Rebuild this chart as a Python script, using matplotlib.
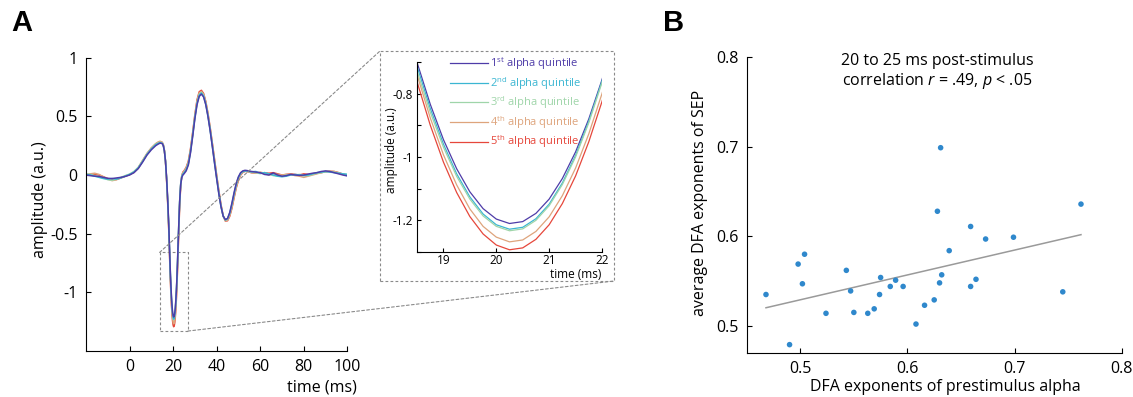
import numpy as np
import matplotlib
matplotlib.use("Agg")
import matplotlib.pyplot as plt
from matplotlib.patches import Rectangle, ConnectionPatch

FONT = "Open Sans"
plt.rcParams["font.family"] = [FONT, "DejaVu Sans"]
plt.rcParams["mathtext.fontset"] = "custom"
plt.rcParams["mathtext.rm"] = FONT
plt.rcParams["mathtext.it"] = FONT + ":italic"

# ---------------- data: panel A (SEP waveforms per alpha quintile) ----------------
time_ms = ([-20, -18, -16, -14, -12, -10, -8, -6, -4, -2, 0, 2, 4, 6, 8, 10, 12,
            13, 14, 15,
            15.5, 16, 16.5, 17, 17.5, 18,
            18.5, 18.75, 19, 19.25, 19.5, 19.75, 20, 20.25, 20.5, 20.75, 21, 21.25, 21.5, 21.75, 22,
            22.5, 23, 23.5, 24, 24.5, 25]
           + list(range(26, 57)) + list(range(58, 101, 2)))

q1 = [0.000, -0.005, -0.010, -0.012, -0.020, -0.028, -0.030, -0.025, -0.020, -0.012, 0.000, 0.020, 0.055, 0.110, 0.170, 0.215, 0.250,
      0.262, 0.272, 0.268,
      0.250, 0.205, 0.120, -0.020, -0.200, -0.420,
      -0.701, -0.833, -0.945, -1.037, -1.110, -1.163, -1.196, -1.210, -1.204, -1.178, -1.133, -1.068, -0.984, -0.880, -0.756,
      -0.480, -0.230, -0.080, -0.020, 0.000, 0.010,
      0.035, 0.085, 0.190, 0.330, 0.480, 0.600, 0.670, 0.690, 0.665, 0.600, 0.500, 0.380, 0.245, 0.105, -0.030, -0.160,
      -0.270, -0.350, -0.380, -0.370, -0.320, -0.240, -0.150, -0.070, -0.015, 0.020, 0.035, 0.040, 0.038, 0.033, 0.030,
      0.025, 0.020, 0.005, 0.000, 0.018, 0.000, -0.010, -0.005, 0.005, 0.000, -0.003, 0.000, 0.008, 0.015, 0.020, 0.030,
      0.035, 0.030, 0.020, 0.010, 0.000, -0.008]
q2 = [0.005, 0.000, -0.010, -0.020, -0.030, -0.035, -0.030, -0.035, -0.025, -0.010, 0.005, 0.025, 0.060, 0.115, 0.175, 0.222, 0.258,
      0.268, 0.276, 0.270,
      0.252, 0.207, 0.120, -0.025, -0.208, -0.430,
      -0.713, -0.846, -0.959, -1.053, -1.126, -1.180, -1.214, -1.228, -1.222, -1.195, -1.149, -1.082, -0.995, -0.887, -0.760,
      -0.482, -0.228, -0.075, -0.012, 0.008, 0.018,
      0.045, 0.095, 0.200, 0.340, 0.490, 0.610, 0.680, 0.698, 0.672, 0.605, 0.505, 0.385, 0.250, 0.110, -0.025, -0.155,
      -0.268, -0.350, -0.382, -0.372, -0.325, -0.250, -0.160, -0.080, -0.020, 0.015, 0.030, 0.035, 0.035, 0.030, 0.028,
      0.030, 0.015, 0.020, 0.010, 0.000, -0.010, -0.015, -0.010, 0.000, 0.005, 0.000, -0.005, 0.000, 0.010, 0.020, 0.025,
      0.030, 0.025, 0.020, 0.015, 0.010, 0.005]
q3 = [0.010, 0.005, -0.005, -0.015, -0.025, -0.040, -0.045, -0.035, -0.020, -0.005, 0.008, 0.030, 0.065, 0.120, 0.180, 0.225, 0.262,
      0.272, 0.280, 0.273,
      0.254, 0.208, 0.118, -0.030, -0.215, -0.440,
      -0.728, -0.858, -0.969, -1.061, -1.133, -1.186, -1.219, -1.233, -1.227, -1.200, -1.154, -1.087, -1.000, -0.892, -0.765,
      -0.485, -0.230, -0.072, -0.008, 0.012, 0.022,
      0.050, 0.100, 0.205, 0.345, 0.495, 0.615, 0.688, 0.705, 0.680, 0.612, 0.512, 0.392, 0.258, 0.118, -0.018, -0.150,
      -0.265, -0.352, -0.385, -0.378, -0.332, -0.258, -0.168, -0.088, -0.028, 0.010, 0.028, 0.033, 0.032, 0.028, 0.025,
      0.020, 0.012, 0.020, 0.008, -0.005, -0.008, -0.010, 0.000, 0.005, 0.000, 0.005, 0.000, -0.005, 0.005, 0.015, 0.020,
      0.028, 0.030, 0.025, 0.015, 0.010, 0.005]
q4 = [0.005, 0.010, 0.015, 0.005, -0.015, -0.035, -0.048, -0.040, -0.025, -0.010, 0.005, 0.025, 0.065, 0.125, 0.185, 0.232, 0.268,
      0.280, 0.288, 0.280,
      0.260, 0.212, 0.118, -0.035, -0.225, -0.455,
      -0.740, -0.876, -0.993, -1.088, -1.164, -1.219, -1.253, -1.268, -1.262, -1.235, -1.189, -1.122, -1.035, -0.927, -0.800,
      -0.520, -0.255, -0.085, -0.005, 0.020, 0.030,
      0.060, 0.110, 0.215, 0.355, 0.505, 0.630, 0.700, 0.712, 0.688, 0.620, 0.520, 0.400, 0.268, 0.130, -0.008, -0.140,
      -0.258, -0.350, -0.390, -0.385, -0.345, -0.275, -0.185, -0.100, -0.038, 0.005, 0.025, 0.032, 0.030, 0.025, 0.020,
      0.015, 0.025, 0.015, 0.000, 0.010, 0.005, 0.000, 0.005, 0.005, -0.005, -0.010, -0.020, -0.010, 0.000, 0.010, 0.020,
      0.030, 0.035, 0.030, 0.020, 0.005, 0.000]
q5 = [0.000, 0.005, 0.005, 0.000, -0.015, -0.030, -0.040, -0.038, -0.025, -0.010, 0.003, 0.022, 0.060, 0.120, 0.180, 0.228, 0.264,
      0.276, 0.284, 0.277,
      0.258, 0.210, 0.116, -0.038, -0.230, -0.465,
      -0.762, -0.899, -1.016, -1.112, -1.188, -1.243, -1.278, -1.293, -1.287, -1.260, -1.214, -1.147, -1.060, -0.952, -0.825,
      -0.545, -0.270, -0.090, -0.005, 0.025, 0.035,
      0.065, 0.118, 0.225, 0.365, 0.515, 0.642, 0.710, 0.722, 0.695, 0.628, 0.528, 0.408, 0.275, 0.138, 0.000, -0.132,
      -0.252, -0.348, -0.392, -0.390, -0.352, -0.285, -0.195, -0.110, -0.045, 0.000, 0.022, 0.032, 0.030, 0.025, 0.020,
      0.018, 0.015, 0.020, 0.015, 0.020, 0.010, 0.000, 0.005, 0.010, 0.005, 0.000, 0.010, 0.005, 0.010, 0.015, 0.020,
      0.028, 0.030, 0.030, 0.020, 0.008, 0.000]

quintile_series = [q1, q2, q3, q4, q5]
quintile_labels = [r"1$^{\rm st}$ alpha quintile", r"2$^{\rm nd}$ alpha quintile",
                   r"3$^{\rm rd}$ alpha quintile", r"4$^{\rm th}$ alpha quintile",
                   r"5$^{\rm th}$ alpha quintile"]
quintile_colors = ["#4e3ca8", "#3bb6d2", "#9fd5a9", "#dea47c", "#e6473b"]

main_xticks = [0, 20, 40, 60, 80, 100]
main_yticks = [-1, -0.5, 0, 0.5, 1]
main_yticklabels = ["-1", "-0.5", "0", "0.5", "1"]
zoom_t = [13.8, 26.8]
zoom_v = [-1.33, -0.66]

inset_xticks = [19, 20, 21, 22]
inset_yticks = [-1.3, -1.2, -1.1, -1.0, -0.9, -0.8, -0.7]
inset_yticklabels = ["", "-1.2", "", "-1", "", "-0.8", ""]

# ---------------- data: panel B (scatter) ----------------
dfa_alpha = [0.468, 0.490, 0.498, 0.502, 0.504, 0.524, 0.543, 0.547, 0.550, 0.563, 0.569,
             0.574, 0.575, 0.584, 0.589, 0.596, 0.608, 0.616, 0.625, 0.628, 0.630, 0.631,
             0.632, 0.639, 0.659, 0.659, 0.664, 0.673, 0.699, 0.745, 0.762]
dfa_sep = [0.535, 0.479, 0.569, 0.547, 0.580, 0.514, 0.562, 0.539, 0.515, 0.514, 0.519,
           0.535, 0.554, 0.544, 0.551, 0.544, 0.502, 0.523, 0.529, 0.628, 0.548, 0.699,
           0.557, 0.584, 0.544, 0.611, 0.552, 0.597, 0.599, 0.538, 0.636]
b_xticks = [0.5, 0.6, 0.7, 0.8]
b_yticks = [0.5, 0.6, 0.7, 0.8]

W, H = 1133, 397
fig = plt.figure(figsize=(W / 100, H / 100), dpi=100)


def px_axes(left, top, right, bottom):
    return fig.add_axes([left / W, 1 - bottom / H, (right - left) / W, (bottom - top) / H])


def style(ax, size, length=3.5):
    for s in ["top", "right"]:
        ax.spines[s].set_visible(False)
    for s in ["left", "bottom"]:
        ax.spines[s].set_linewidth(0.8)
    ax.tick_params(direction="in", length=length, width=0.8, labelsize=size, colors="black")


# ---------------- Panel A ----------------
axA = px_axes(86, 57.7, 347.3, 351)
for series, col in reversed(list(zip(quintile_series, quintile_colors))):
    axA.plot(time_ms, series, color=col, lw=1.1)
axA.set_xlim(-20, 100)
axA.set_ylim(-1.5, 1)
axA.set_xticks(main_xticks)
axA.set_yticks(main_yticks)
axA.set_yticklabels(main_yticklabels)
style(axA, 11.5)
axA.tick_params(axis="x", pad=6)
axA.tick_params(axis="y", pad=6)
axA.text(-0.176, 0.515, "amplitude (a.u.)", transform=axA.transAxes, rotation=90,
         ha="center", va="center", fontsize=11.5)
axA.text(1.036, -0.123, "time (ms)", transform=axA.transAxes, ha="right", va="center", fontsize=11.5)
axA.add_patch(Rectangle((zoom_t[0], zoom_v[0]), zoom_t[1] - zoom_t[0], zoom_v[1] - zoom_v[0],
                        fill=False, ls=(0, (2.5, 2)), lw=0.8, ec="#8a8a8a", clip_on=False))

# ---------------- Inset ----------------
axI = px_axes(417, 62, 602, 252)
for series, col, lab in zip(quintile_series, quintile_colors, quintile_labels):
    axI.plot(time_ms, series, color=col, lw=0.9, label=lab)
axI.set_xlim(18.5, 22)
axI.set_ylim(-1.3, -0.7)
axI.set_xticks(inset_xticks)
axI.set_yticks(inset_yticks)
axI.set_yticklabels(inset_yticklabels)
style(axI, 8.5, length=3)
axI.tick_params(axis="x", pad=1.5)
axI.tick_params(axis="y", pad=3)
axI.text(-0.137, 0.537, "amplitude (a.u.)", transform=axI.transAxes, rotation=90,
         ha="center", va="center", fontsize=8.5)
axI.text(0.998, -0.118, "time (ms)", transform=axI.transAxes, ha="right", va="center", fontsize=8.5)
leg = axI.legend(loc="upper left", bbox_to_anchor=(0.178, 1.035), frameon=False, fontsize=8,
                 handlelength=3.4, handletextpad=0.25, labelspacing=0.25, borderpad=0, borderaxespad=0)
for txt, col in zip(leg.get_texts(), quintile_colors):
    txt.set_color(col)

# frame round the inset (dashed)
fx0, fx1 = (380 - 417) / 185, (614 - 417) / 185
fy0, fy1 = (252 - 281) / 190, (252 - 51) / 190
axI.add_patch(Rectangle((fx0, fy0), fx1 - fx0, fy1 - fy0, transform=axI.transAxes, fill=False,
                        ls=(0, (2.5, 2)), lw=0.8, ec="#8a8a8a", clip_on=False))
for (xa, ya), (xb, yb) in [((zoom_t[0], zoom_v[1]), (fx0, fy1)), ((zoom_t[1], zoom_v[0]), (fx1, fy0))]:
    con = ConnectionPatch(xyA=(xa, ya), coordsA=axA.transData, xyB=(xb, yb), coordsB=axI.transAxes,
                          ls=(0, (2.5, 2)), lw=0.8, color="#8a8a8a")
    fig.add_artist(con)

# ---------------- Panel B ----------------
axB = px_axes(746.7, 57.3, 1121.7, 352.7)
axB.scatter(dfa_alpha, dfa_sep, s=16, color="#2f88cc", edgecolors="none", zorder=3)
slope, icpt = np.polyfit(dfa_alpha, dfa_sep, 1)
xfit = np.array([min(dfa_alpha), max(dfa_alpha)])
axB.plot(xfit, slope * xfit + icpt, color="#9a9a9a", lw=1.1, zorder=2)
axB.set_xlim(0.45, 0.8)
axB.set_ylim(0.47, 0.8)
axB.set_xticks(b_xticks)
axB.set_yticks(b_yticks)
axB.set_xticklabels([f"{v:.1f}" for v in b_xticks])
axB.set_yticklabels([f"{v:.1f}" for v in b_yticks])
style(axB, 11.5)
axB.tick_params(axis="x", pad=6)
axB.tick_params(axis="y", pad=6)
axB.text(0.507, 0.987, "20 to 25 ms post-stimulus", transform=axB.transAxes, ha="center", va="center", fontsize=11.5)
axB.text(0.507, 0.920, r"correlation $\it{r}$ = .49, $\it{p}$ < .05", transform=axB.transAxes,
         ha="center", va="center", fontsize=11.5)
axB.text(0.529, -0.116, "DFA exponents of prestimulus alpha", transform=axB.transAxes,
         ha="center", va="center", fontsize=11.5)
axB.text(-0.1245, 0.507, "average DFA exponents of SEP", transform=axB.transAxes, rotation=90,
         ha="center", va="center", fontsize=11.5)

fig.text(22 / W, 1 - 23 / H, "A", fontsize=21, fontweight="bold", ha="center", va="center",
         family=["Liberation Sans", "DejaVu Sans"])
fig.text(674 / W, 1 - 23 / H, "B", fontsize=21, fontweight="bold", ha="center", va="center",
         family=["Liberation Sans", "DejaVu Sans"])

fig.savefig("out.png", dpi=100)
